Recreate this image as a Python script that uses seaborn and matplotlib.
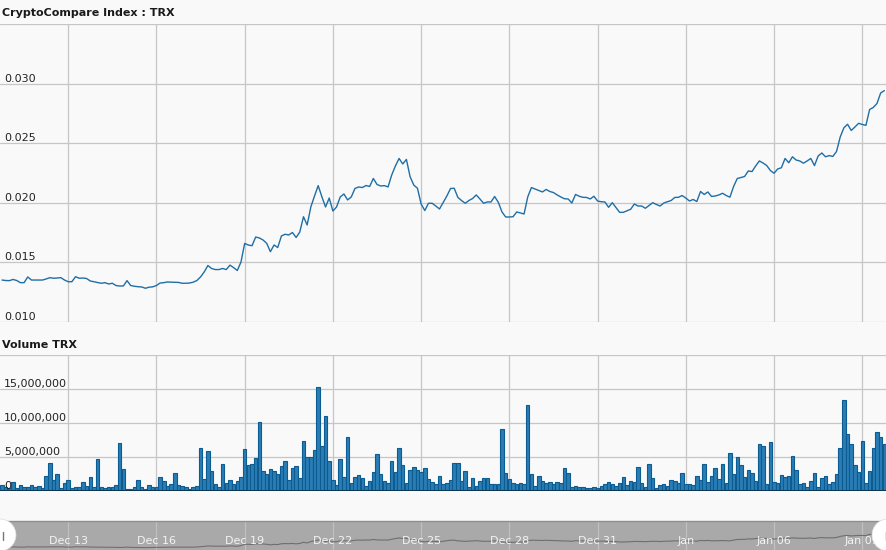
import numpy as np
import pandas as pd
import matplotlib
matplotlib.use("Agg")
import matplotlib.pyplot as plt
import matplotlib.transforms as mtrans
from matplotlib.patches import Circle
from matplotlib.lines import Line2D
import seaborn as sns

# ---------------- data ----------------
start_time = "2017-12-10 18:00"
price = [
    0.01352, 0.01348, 0.01347, 0.01357, 0.01348, 0.01330, 0.01330, 0.01378,
    0.01352, 0.01352, 0.01352, 0.01352, 0.01361, 0.01372, 0.01367, 0.01369,
    0.01372, 0.01352, 0.01338, 0.01338, 0.01380, 0.01367, 0.01369, 0.01365,
    0.01344, 0.01338, 0.01331, 0.01325, 0.01330, 0.01319, 0.01325, 0.01306,
    0.01302, 0.01302, 0.01347, 0.01306, 0.01300, 0.01296, 0.01294, 0.01283,
    0.01292, 0.01295, 0.01306, 0.01327, 0.01330, 0.01336, 0.01334, 0.01333,
    0.01332, 0.01325, 0.01325, 0.01327, 0.01334, 0.01348, 0.01378, 0.01420,
    0.01474, 0.01449, 0.01440, 0.01440, 0.01449, 0.01440, 0.01477, 0.01456,
    0.01432, 0.01503, 0.01659, 0.01646, 0.01640, 0.01713, 0.01705, 0.01688,
    0.01660, 0.01590, 0.01646, 0.01625, 0.01722, 0.01736, 0.01730, 0.01751,
    0.01709, 0.01755, 0.01883, 0.01814, 0.01965, 0.02057, 0.02144, 0.02051,
    0.01965, 0.02040, 0.01931, 0.01965, 0.02049, 0.02074, 0.02024, 0.02049,
    0.02120, 0.02133, 0.02128, 0.02145, 0.02137, 0.02204, 0.02154, 0.02141,
    0.02144, 0.02133, 0.02233, 0.02309, 0.02372, 0.02326, 0.02364, 0.02219,
    0.02149, 0.02122, 0.01990, 0.01935, 0.01996, 0.01996, 0.01973, 0.01948,
    0.02003, 0.02057, 0.02120, 0.02122, 0.02045, 0.02019, 0.01996, 0.02019,
    0.02036, 0.02066, 0.02032, 0.01996, 0.02007, 0.02007, 0.02053, 0.02004,
    0.01923, 0.01881, 0.01881, 0.01883, 0.01923, 0.01915, 0.01906, 0.02049,
    0.02128, 0.02116, 0.02103, 0.02091, 0.02112, 0.02095, 0.02086, 0.02066,
    0.02049, 0.02034, 0.02032, 0.01998, 0.02070, 0.02055, 0.02046, 0.02045,
    0.02032, 0.02055, 0.02015, 0.02009, 0.02007, 0.01962, 0.02001, 0.01961,
    0.01920, 0.01920, 0.01933, 0.01946, 0.01990, 0.01973, 0.01973, 0.01954,
    0.01977, 0.02001, 0.01986, 0.01973, 0.01998, 0.02009, 0.02019, 0.02045,
    0.02046, 0.02061, 0.02040, 0.02015, 0.02028, 0.02011, 0.02095, 0.02070,
    0.02091, 0.02053, 0.02057, 0.02066, 0.02080, 0.02061, 0.02047, 0.02137,
    0.02204, 0.02212, 0.02221, 0.02267, 0.02262, 0.02309, 0.02351, 0.02334,
    0.02313, 0.02271, 0.02248, 0.02284, 0.02294, 0.02372, 0.02336, 0.02386,
    0.02359, 0.02351, 0.02332, 0.02351, 0.02372, 0.02312, 0.02393, 0.02418,
    0.02386, 0.02396, 0.02389, 0.02431, 0.02552, 0.02629, 0.02659, 0.02607,
    0.02636, 0.02667, 0.02657, 0.02650, 0.02783, 0.02800, 0.02833, 0.02921,
    0.02941,
]
volume_millions = [
    0.93, 0.54, 0.45, 1.30, 0.44, 0.93, 0.59, 0.59,
    0.93, 0.64, 0.78, 0.49, 2.25, 4.10, 1.67, 2.55,
    0.44, 1.18, 1.67, 0.44, 0.59, 0.59, 1.30, 0.78,
    2.10, 0.59, 4.70, 0.59, 0.49, 0.59, 0.59, 0.93,
    7.06, 3.24, 0.29, 0.29, 0.59, 1.62, 0.59, 0.29,
    0.88, 0.64, 0.64, 2.10, 1.47, 0.74, 1.08, 2.65,
    0.88, 0.74, 0.64, 0.34, 0.59, 0.74, 6.32, 1.76,
    5.93, 2.94, 1.03, 0.59, 3.97, 1.18, 1.62, 1.08,
    1.47, 2.10, 6.18, 3.82, 3.97, 4.85, 10.15, 2.94,
    2.55, 3.24, 2.89, 2.55, 3.68, 4.46, 1.67, 3.38,
    3.68, 1.91, 7.40, 5.00, 5.00, 6.08, 15.29, 6.67,
    11.08, 4.46, 1.67, 0.88, 4.71, 2.11, 7.94, 1.18,
    2.06, 2.35, 1.91, 0.74, 1.47, 2.79, 5.44, 2.50,
    1.47, 1.18, 4.41, 2.79, 6.32, 3.82, 1.18, 3.14,
    3.53, 3.14, 2.79, 3.38, 1.76, 1.32, 1.03, 2.21,
    1.03, 1.18, 1.62, 4.12, 4.12, 1.47, 2.94, 0.59,
    1.91, 0.74, 1.47, 1.91, 1.91, 1.03, 1.03, 1.03,
    9.12, 2.65, 1.76, 1.18, 1.03, 1.18, 1.03, 12.65,
    2.50, 0.74, 2.21, 1.47, 1.18, 1.32, 1.03, 1.32,
    1.18, 3.38, 2.65, 0.59, 0.74, 0.59, 0.60, 0.50,
    0.40, 0.60, 0.50, 0.78, 1.03, 1.32, 1.03, 0.78,
    1.18, 2.06, 0.88, 1.42, 1.32, 3.53, 1.18, 0.64,
    3.97, 1.91, 0.44, 0.88, 1.03, 0.74, 1.62, 1.47,
    1.18, 2.65, 1.03, 1.03, 0.88, 2.21, 1.62, 3.97,
    1.32, 2.21, 3.38, 1.76, 3.97, 1.18, 5.59, 2.50,
    5.00, 3.82, 2.06, 3.09, 2.65, 1.47, 6.91, 6.62,
    1.03, 7.21, 1.32, 1.18, 2.35, 2.06, 2.21, 5.15,
    3.09, 1.03, 1.18, 0.59, 1.47, 2.65, 0.59, 1.91,
    2.21, 1.03, 1.32, 2.50, 6.32, 13.43, 8.38, 6.91,
    3.82, 2.79, 7.35, 1.18, 2.94, 6.32, 8.73, 7.94,
    6.91,
]
price_ticks = [0.010, 0.015, 0.020, 0.025, 0.030]
price_labels = ["0.010", "0.015", "0.020", "0.025", "0.030"]
volume_ticks = [0, 5e6, 10e6, 15e6]
volume_labels = ["0", "5,000,000", "10,000,000", "15,000,000"]
date_ticks = ["2017-12-13", "2017-12-16", "2017-12-19", "2017-12-22", "2017-12-25",
              "2017-12-28", "2017-12-31", "2018-01-03", "2018-01-06", "2018-01-09"]
date_labels = ["Dec 13", "Dec 16", "Dec 19", "Dec 22", "Dec 25",
               "Dec 28", "Dec 31", "Jan", "Jan 06", "Jan 09"]

# ---------------- build frame ----------------
ref = pd.Timestamp("2017-12-13")
times = pd.date_range(start_time, periods=len(price), freq="3h")
df = pd.DataFrame({
    "hours": (times - ref) / pd.Timedelta(hours=1),
    "price": price,
    "volume": np.array(volume_millions) * 1e6,
})
tick_hours = [(pd.Timestamp(d) - ref) / pd.Timedelta(hours=1) for d in date_ticks]

# ---------------- figure ----------------
W, H = 887, 550
BG = "#f9f9f9"
GRID = "#c6c6c6"
LINE = "#1f6ea6"
sns.set_theme(style="white")
plt.rcParams["font.family"] = ["DejaVu Sans"]

fig = plt.figure(figsize=(W / 100, H / 100), dpi=100, facecolor=BG)

def pos(top_px, bottom_px):
    return [0, (H - bottom_px) / H, 1, (bottom_px - top_px) / H]

px_per_hour = 29.41 / 24
x0 = tick_hours[0] - 68.2 / px_per_hour
x1 = tick_hours[0] + (W - 68.2) / px_per_hour

ax1 = fig.add_axes(pos(24, 322), facecolor=BG)
ax2 = fig.add_axes(pos(355, 491), facecolor=BG)
ax3 = fig.add_axes(pos(521, 550), facecolor="#a9a9a9")

# price line
sns.lineplot(data=df, x="hours", y="price", ax=ax1, color=LINE, linewidth=1.0)
ax1.set_xlim(x0, x1)
ax1.set_ylim(0.010, 0.035)
ax1.set_yticks(price_ticks + [0.035])

# volume bars
sns.barplot(data=df, x="hours", y="volume", ax=ax2, native_scale=True,
            color="#2a7cb4", edgecolor="#0c5b91", linewidth=0.8,
            saturation=1, width=0.95, errorbar=None)
ax2.set_xlim(x0, x1)
ax2.set_ylim(0, 20e6)
ax2.set_yticks(volume_ticks + [20e6])
ax2.axhline(0, color="#0b3550", linewidth=1.4, zorder=5)

for ax in (ax1, ax2):
    ax.set_xticks(tick_hours)
    ax.grid(True, color=GRID, linewidth=0.9)
    ax.set_axisbelow(True)
    ax.tick_params(length=0, labelbottom=False, labelleft=False)
    ax.set_xlabel("")
    ax.set_ylabel("")
    for s in ax.spines.values():
        s.set_visible(False)

# in-plot y labels
tr1 = mtrans.blended_transform_factory(ax1.transAxes, ax1.transData)
for v, lab in zip(price_ticks, price_labels):
    ax1.text(4 / W, v, lab, transform=tr1, ha="left", va="bottom",
             fontsize=8, color="#222222")
tr2 = mtrans.blended_transform_factory(ax2.transAxes, ax2.transData)
for v, lab in zip(volume_ticks, volume_labels):
    ax2.text(4 / W, v, lab, transform=tr2, ha="left", va="bottom",
             fontsize=8, color="#222222", zorder=6)

# navigator
sns.lineplot(data=df, x="hours", y="price", ax=ax3, color="#6f6f6f", linewidth=0.8)
ax3.set_xlim(x0, x1)
ax3.set_ylim(0.0101, 0.043)
ax3.set_xticks(tick_hours)
ax3.set_yticks([])
ax3.grid(True, axis="x", color="#c0c0c0", linewidth=0.9)
ax3.set_axisbelow(True)
ax3.tick_params(length=0, labelbottom=False, labelleft=False)
ax3.set_xlabel("")
ax3.set_ylabel("")
for k, s in ax3.spines.items():
    s.set_visible(k == "top")
ax3.spines["top"].set_color("#8e8e8e")
ax3.spines["top"].set_linewidth(1.0)
tr3 = mtrans.blended_transform_factory(ax3.transData, ax3.transAxes)
for h, lab in zip(tick_hours, date_labels):
    ax3.text(h, 0.31, lab, transform=tr3, ha="center", va="center",
             fontsize=8, color="#f4f4f4", zorder=4)

# navigator handles
ident = mtrans.IdentityTransform()
for cx, gx in ((0, 3), (888, 886)):
    fig.add_artist(Circle((cx, 15), 16, transform=ident, facecolor="white",
                          edgecolor="#dddddd", linewidth=0.5, zorder=10))
    fig.add_artist(Line2D([gx, gx], [10, 18], transform=ident, color="#777777",
                          linewidth=1.0, zorder=11))

# titles
fig.text(2 / W, 1 - 13 / H, "CryptoCompare Index : TRX", fontsize=8,
         fontweight="bold", color="#1a1a1a", va="center", ha="left")
fig.text(2 / W, 1 - 345 / H, "Volume TRX", fontsize=8,
         fontweight="bold", color="#1a1a1a", va="center", ha="left")

fig.savefig("out.png", dpi=100, facecolor=BG)
